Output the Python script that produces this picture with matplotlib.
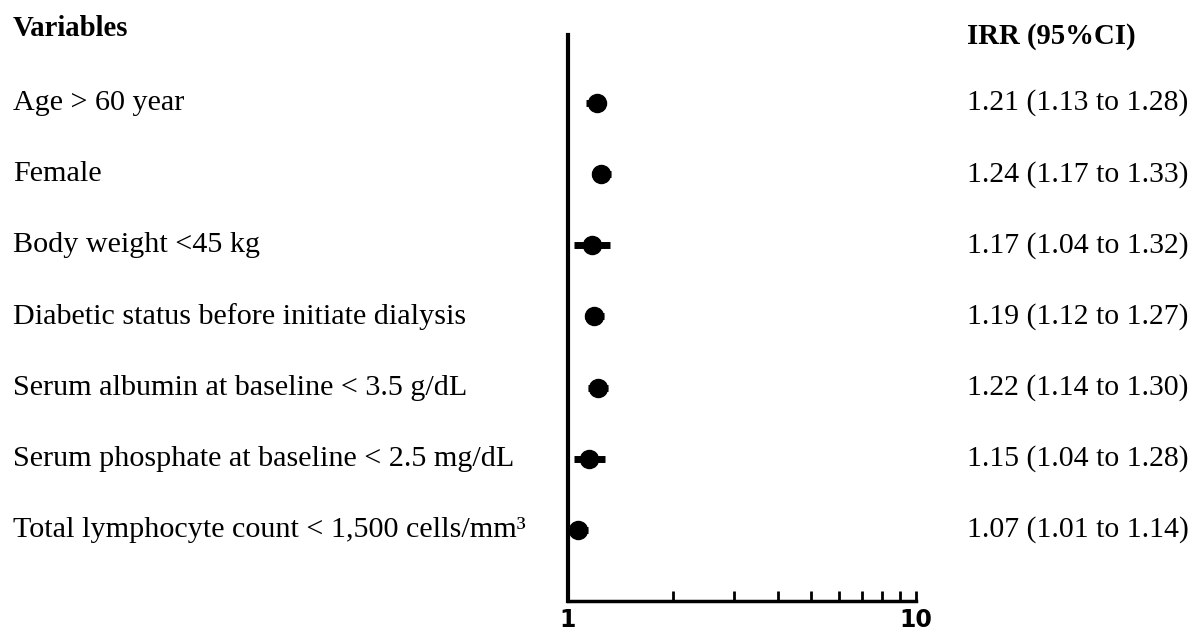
import matplotlib.pyplot as plt
import numpy as np
from matplotlib import transforms

plt.rcParams['font.family'] = ['Liberation Serif', 'DejaVu Serif']

# data
variables = ['Age > 60 year',
             'Female',
             'Body weight <45 kg',
             'Diabetic status before initiate dialysis',
             'Serum albumin at baseline < 3.5 g/dL',
             'Serum phosphate at baseline < 2.5 mg/dL',
             'Total lymphocyte count < 1,500 cells/mm\u00b3']
irr = [1.21, 1.24, 1.17, 1.19, 1.22, 1.15, 1.07]
ci_low = [1.13, 1.17, 1.04, 1.12, 1.14, 1.04, 1.01]
ci_high = [1.28, 1.33, 1.32, 1.27, 1.30, 1.28, 1.14]

W, H = 1197, 632
fig = plt.figure(figsize=(W / 100, H / 100), dpi=100)
ax = fig.add_axes([568 / W, 31 / H, (916 - 568) / W, (601 - 35) / H])

rows = np.arange(len(variables))
irr = np.array(irr)
err = [irr - np.array(ci_low), np.array(ci_high) - irr]
ax.errorbar(irr, rows, xerr=err, fmt='o', color='black', ms=13,
            elinewidth=5, capsize=0)

ax.set_xscale('log')
ax.set_xlim(1, 10)
ax.set_ylim(7.0, -0.955)
ax.set_yticks([])
ax.set_xticks([1, 10])
ax.set_xticklabels(['1', '10'], fontfamily='DejaVu Sans', fontweight='bold', fontsize=17)
ax.tick_params(axis='x', which='both', direction='in', width=2)
ax.tick_params(axis='x', which='major', length=7, pad=5)
ax.tick_params(axis='x', which='minor', length=7)
ax.xaxis.set_minor_formatter(plt.NullFormatter())
for s in ['top', 'right']:
    ax.spines[s].set_visible(False)
ax.spines['left'].set_linewidth(3)
ax.spines['bottom'].set_linewidth(2.5)

# text columns
tr = transforms.blended_transform_factory(fig.transFigure, ax.transData)
ax.text(13 / W, -1.05, 'Variables', transform=tr, fontsize=20.7, fontweight='bold',
        va='center', ha='left', clip_on=False)
ax.text(967 / W, -0.93, 'IRR (95%CI)', transform=tr, fontsize=20.7, fontweight='bold',
        va='center', ha='left', clip_on=False)
for i, name in enumerate(variables):
    ax.text(13 / W, i, name, transform=tr, fontsize=21.7, va='center', ha='left',
            clip_on=False)
    ax.text(967 / W, i, f'{irr[i]:.2f} ({ci_low[i]:.2f} to {ci_high[i]:.2f})',
            transform=tr, fontsize=21.4, va='center', ha='left', clip_on=False)

plt.savefig('out.png', dpi=100)
